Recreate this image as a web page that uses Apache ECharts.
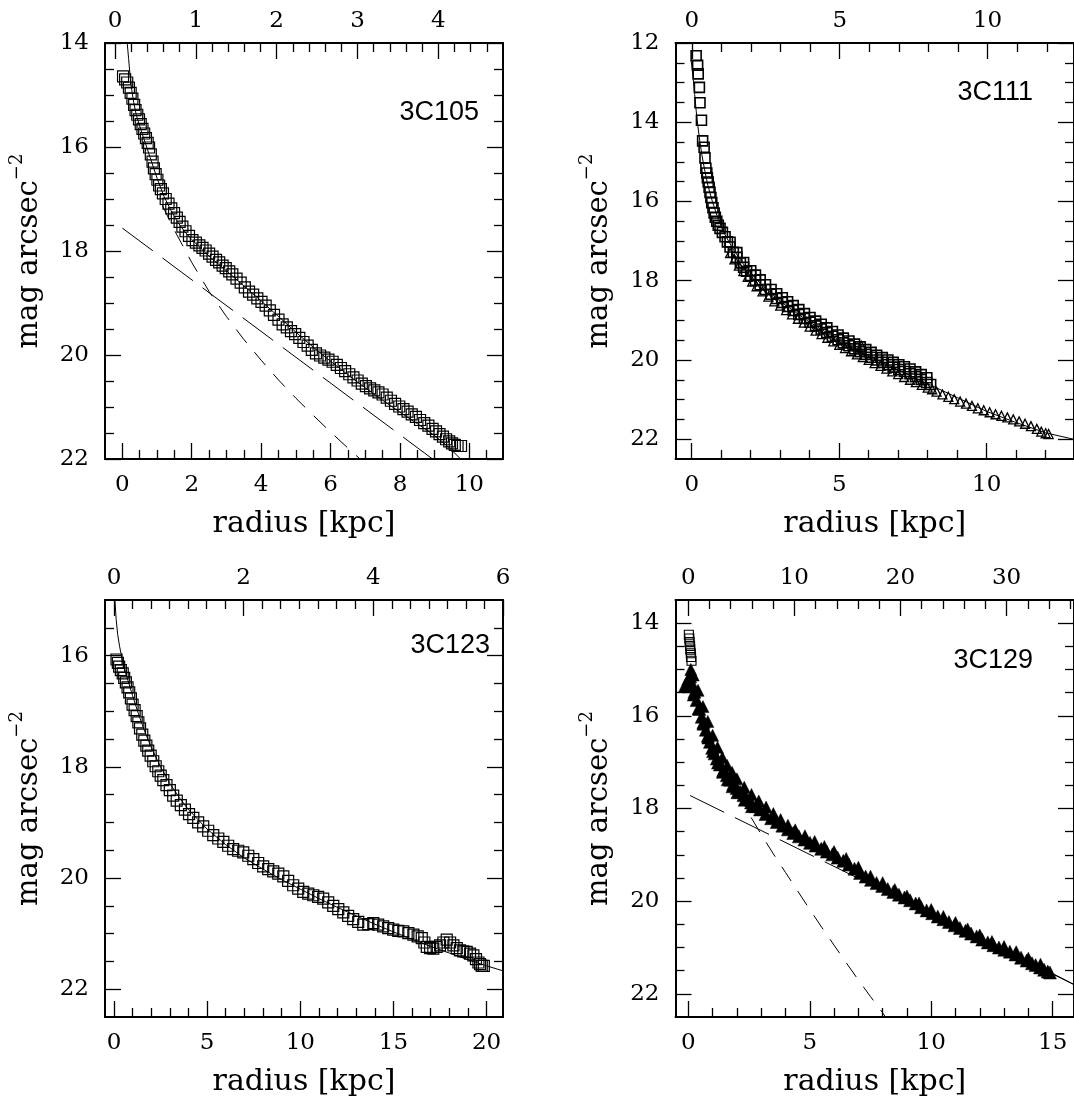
<!DOCTYPE html>
<html><head><meta charset="utf-8">
<script src="https://cdn.jsdelivr.net/npm/echarts@6/dist/echarts.min.js"></script>
<style>html,body{margin:0;padding:0;background:#fff}#c{width:1074px;height:1101px}</style>
</head><body><div id="c"></div><script>
// ---------------- DATA ----------------
// 3C105
const p1Squares = [[0.02,14.64],[0.08,14.70],[0.14,14.76],[0.19,14.86],[0.24,14.96],[0.29,15.07],[0.34,15.19],[0.38,15.29],[0.43,15.38],[0.48,15.47],[0.53,15.56],[0.58,15.65],[0.63,15.74],[0.68,15.83],[0.73,15.92],[0.77,16.01],[0.82,16.14],[0.87,16.28],[0.91,16.41],[0.96,16.52],[1.01,16.63],[1.06,16.74],[1.11,16.81],[1.17,16.89],[1.25,17.0],[1.33,17.09],[1.41,17.18],[1.49,17.27],[1.57,17.36],[1.65,17.44],[1.73,17.53],[1.82,17.62],[1.92,17.71],[2.02,17.79],[2.12,17.84],[2.22,17.89],[2.31,17.94],[2.40,17.99],[2.5,18.05],[2.6,18.11],[2.7,18.17],[2.79,18.22],[2.89,18.28],[2.98,18.33],[3.08,18.39],[3.17,18.45],[3.29,18.53],[3.41,18.61],[3.53,18.70],[3.65,18.78],[3.77,18.84],[3.89,18.91],[4.01,18.98],[4.13,19.05],[4.25,19.14],[4.37,19.23],[4.5,19.32],[4.62,19.41],[4.74,19.47],[4.86,19.54],[4.98,19.60],[5.10,19.67],[5.22,19.75],[5.34,19.82],[5.46,19.90],[5.58,19.97],[5.7,20.01],[5.82,20.05],[5.94,20.09],[6.06,20.13],[6.18,20.19],[6.3,20.25],[6.42,20.31],[6.54,20.37],[6.66,20.43],[6.78,20.49],[6.9,20.55],[7.02,20.60],[7.14,20.64],[7.26,20.68],[7.38,20.72],[7.5,20.76],[7.62,20.82],[7.74,20.88],[7.86,20.94],[7.98,20.99],[8.1,21.04],[8.22,21.09],[8.34,21.14],[8.46,21.19],[8.58,21.25],[8.7,21.31],[8.82,21.36],[8.94,21.42],[9.04,21.47],[9.14,21.52],[9.24,21.57],[9.33,21.62],[9.42,21.66],[9.5,21.70],[9.58,21.73],[9.66,21.75],[9.76,21.75]];
const p1Total = [[0.14,14.0],[0.18,14.3],[0.22,14.6],[0.27,14.9],[0.33,15.15],[0.4,15.38],[0.5,15.6],[0.6,15.8],[0.7,16.0],[0.8,16.2],[0.9,16.4],[1.0,16.6],[1.2,16.95],[1.4,17.22],[1.6,17.45],[1.8,17.63],[2.0,17.78],[2.5,18.1],[3.0,18.38],[3.5,18.67],[4.0,18.96],[4.5,19.26],[5.0,19.56],[5.5,19.85],[6.0,20.12],[6.5,20.38],[7.0,20.63],[7.5,20.87],[8.0,21.1],[8.5,21.32],[9.0,21.55],[9.4,21.77],[9.75,22.0]];
const p1Bulge = [[1.15,17.12],[1.5,17.6],[2.0,18.22],[2.5,18.78],[3.0,19.26],[3.5,19.7],[4.0,20.1],[4.5,20.48],[5.0,20.83],[5.5,21.16],[6.0,21.48],[6.5,21.79],[6.85,22.0]];
const p1Disk = [[0.0,17.56],[8.94,22.0]];
// 3C111
const p2Squares = [[0.15,12.32],[0.2,12.56],[0.22,12.78],[0.26,13.12],[0.28,13.51],[0.33,13.95],[0.37,14.47],[0.42,14.63],[0.45,14.9],[0.48,15.16],[0.51,15.28],[0.53,15.4],[0.56,15.51],[0.59,15.64],[0.62,15.77],[0.65,15.9],[0.68,16.03],[0.72,16.16],[0.76,16.29],[0.8,16.4],[0.85,16.5],[0.9,16.6],[0.96,16.68],[1.04,16.78],[1.13,16.89],[1.21,17.02],[1.30,17.15],[1.41,17.28],[1.53,17.41],[1.65,17.55],[1.76,17.66],[1.86,17.76],[2.0,17.87],[2.16,17.99],[2.32,18.10],[2.5,18.22],[2.69,18.34],[2.88,18.45],[3.07,18.55],[3.25,18.65],[3.44,18.75],[3.63,18.85],[3.82,18.95],[4.01,19.05],[4.2,19.14],[4.39,19.22],[4.58,19.31],[4.77,19.4],[4.96,19.49],[5.14,19.57],[5.33,19.64],[5.52,19.72],[5.71,19.79],[5.9,19.86],[6.08,19.93],[6.27,20.0],[6.46,20.06],[6.65,20.12],[6.83,20.18],[7.02,20.24],[7.21,20.29],[7.4,20.35],[7.59,20.42],[7.78,20.49],[7.97,20.57],[8.1,20.62]];
const p2SquaresUpper = [[1.3,17.03],[1.53,17.29],[1.76,17.54],[2.0,17.75],[2.16,17.86],[2.32,17.98],[2.5,18.1],[2.69,18.22],[2.88,18.33],[3.07,18.43],[3.25,18.53],[3.44,18.63],[3.63,18.73],[3.82,18.83],[4.01,18.93],[4.2,19.02],[4.39,19.1],[4.58,19.19],[4.77,19.28],[4.96,19.37],[5.14,19.45],[5.33,19.52],[5.52,19.6],[5.71,19.67],[5.9,19.74],[6.08,19.81],[6.27,19.88],[6.46,19.94],[6.65,20.0],[6.83,20.06],[7.02,20.12],[7.21,20.17],[7.4,20.23],[7.59,20.3],[7.78,20.37],[7.97,20.45]];
const p2Triangles = [[1.3,17.3],[1.45,17.46],[1.6,17.62],[1.75,17.76],[1.9,17.9],[2.05,18.02],[2.2,18.14],[2.4,18.27],[2.6,18.4],[2.8,18.52],[3.0,18.63],[3.2,18.74],[3.4,18.85],[3.6,18.96],[3.8,19.06],[4.0,19.16],[4.2,19.26],[4.4,19.35],[4.6,19.44],[4.8,19.53],[5.0,19.62],[5.2,19.7],[5.4,19.78],[5.6,19.86],[5.75,19.64],[5.8,19.93],[6.0,20.0],[6.2,20.08],[6.4,20.15],[6.6,20.22],[6.8,20.29],[7.0,20.36],[7.2,20.43],[7.4,20.5],[7.6,20.56],[7.8,20.63],[8.0,20.7],[8.15,20.74],[8.3,20.8],[8.5,20.87],[8.7,20.93],[8.9,20.99],[9.1,21.05],[9.3,21.1],[9.5,21.16],[9.7,21.22],[9.9,21.27],[10.1,21.32],[10.3,21.37],[10.5,21.41],[10.7,21.45],[10.9,21.5],[11.1,21.55],[11.3,21.61],[11.5,21.67],[11.7,21.74],[11.85,21.81],[12.0,21.85],[12.1,21.87]];
const p2Total = [[-0.02,12.43],[0.05,12.9],[0.1,13.3],[0.15,13.7],[0.2,14.05],[0.27,14.45],[0.35,14.85],[0.45,15.25],[0.55,15.6],[0.7,16.0],[0.9,16.45],[1.1,16.8],[1.4,17.2],[1.8,17.63],[2.3,18.05],[3.0,18.52],[4.0,19.05],[5.0,19.5],[6.0,19.9],[7.0,20.25],[8.0,20.6],[9.0,20.95],[10.0,21.3],[11.0,21.58],[12.0,21.84],[12.94,22.0]];
// 3C123
const p3Squares = [[0.14,16.07],[0.21,16.13],[0.28,16.2],[0.37,16.26],[0.47,16.32],[0.55,16.4],[0.64,16.48],[0.73,16.57],[0.82,16.66],[0.91,16.77],[1.0,16.88],[1.11,16.98],[1.22,17.09],[1.31,17.2],[1.4,17.31],[1.52,17.42],[1.63,17.53],[1.74,17.62],[1.84,17.71],[1.97,17.8],[2.11,17.9],[2.24,17.99],[2.38,18.08],[2.51,18.16],[2.65,18.24],[2.82,18.33],[3.0,18.42],[3.18,18.52],[3.37,18.61],[3.59,18.69],[3.81,18.77],[4.03,18.85],[4.26,18.92],[4.52,19.0],[4.79,19.07],[5.06,19.15],[5.33,19.23],[5.6,19.29],[5.87,19.35],[6.13,19.42],[6.4,19.48],[6.67,19.51],[6.94,19.54],[7.21,19.6],[7.48,19.66],[7.74,19.73],[8.01,19.79],[8.28,19.84],[8.55,19.88],[8.82,19.92],[9.09,19.97],[9.35,20.05],[9.62,20.13],[9.89,20.19],[10.16,20.25],[10.43,20.28],[10.7,20.31],[10.96,20.34],[11.23,20.37],[11.5,20.44],[11.77,20.5],[12.04,20.56],[12.31,20.62],[12.57,20.68],[12.84,20.74],[13.11,20.79],[13.38,20.84],[13.65,20.83],[13.92,20.81],[14.18,20.84],[14.45,20.87],[14.72,20.9],[14.99,20.93],[15.26,20.95],[15.53,20.96],[15.8,20.99],[16.07,21.02],[16.3,21.05],[16.52,21.08],[16.66,21.16],[16.79,21.24],[16.97,21.26],[17.14,21.27],[17.32,21.24],[17.5,21.21],[17.68,21.16],[17.86,21.11],[18.04,21.16],[18.22,21.21],[18.4,21.26],[18.57,21.3],[18.75,21.32],[18.93,21.33],[19.11,21.36],[19.29,21.39],[19.43,21.46],[19.56,21.52],[19.65,21.55],[19.74,21.58],[19.85,21.58]];
const p3Total = [[0.05,15.0],[0.12,15.35],[0.2,15.62],[0.3,15.83],[0.45,16.08],[0.6,16.28],[0.8,16.5],[1.0,16.72],[1.3,17.03],[1.6,17.32],[2.0,17.65],[2.5,18.0],[3.0,18.3],[3.5,18.55],[4.0,18.77],[5.0,19.12],[6.0,19.4],[7.0,19.64],[8.0,19.84],[9.0,20.03],[10.0,20.2],[11.0,20.37],[12.0,20.53],[13.0,20.68],[14.0,20.83],[15.0,20.97],[16.0,21.1],[17.0,21.23],[18.0,21.35],[19.0,21.47],[20.0,21.58],[20.88,21.67]];
// 3C129
const p4Squares = [[0.02,14.25],[0.04,14.33],[0.05,14.41],[0.07,14.49],[0.08,14.57],[0.1,14.65],[0.11,14.73],[0.13,14.81]];
const p4Triangles = [[-0.14,15.35],[0.0,15.2],[0.07,15.15],[0.15,15.3],[0.25,15.48],[0.34,15.66],[0.45,15.85],[0.55,16.02],[0.62,16.14],[0.72,16.3],[0.8,16.43],[0.89,16.56],[0.98,16.69],[1.08,16.81],[1.17,16.92],[1.3,17.05],[1.44,17.17],[1.58,17.28],[1.72,17.38],[1.85,17.47],[1.99,17.56],[2.13,17.64],[2.27,17.71],[2.4,17.78],[2.58,17.87],[2.77,17.95],[2.95,18.02],[3.18,18.12],[3.41,18.21],[3.64,18.29],[3.87,18.37],[4.1,18.45],[4.32,18.53],[4.55,18.6],[4.78,18.67],[5.01,18.74],[5.24,18.8],[5.47,18.87],[5.7,18.93],[5.93,18.99],[6.15,19.06],[6.38,19.13],[6.61,19.21],[6.84,19.3],[7.07,19.39],[7.3,19.47],[7.52,19.54],[7.75,19.61],[7.98,19.67],[8.21,19.74],[8.44,19.8],[8.67,19.86],[8.9,19.92],[9.13,19.98],[9.36,20.05],[9.58,20.13],[9.81,20.2],[10.04,20.26],[10.27,20.33],[10.5,20.39],[10.73,20.45],[10.96,20.52],[11.18,20.58],[11.41,20.64],[11.64,20.7],[11.87,20.76],[12.1,20.83],[12.33,20.89],[12.56,20.95],[12.79,21.0],[13.01,21.05],[13.24,21.09],[13.47,21.15],[13.7,21.22],[13.93,21.28],[14.15,21.34],[14.3,21.38],[14.48,21.43],[14.65,21.48],[14.8,21.52],[14.89,21.54]];
const p4TrianglesUpper = [[0.1,15.0],[0.2,15.12],[0.4,15.45],[0.6,15.8],[0.8,16.12],[1.0,16.42],[1.2,16.68],[1.4,16.9],[1.6,17.07],[1.8,17.22],[2.0,17.36],[2.3,17.54],[2.6,17.7],[2.9,17.84],[3.2,17.97],[3.5,18.11],[3.8,18.24],[4.1,18.36],[4.4,18.46],[4.8,18.59],[5.2,18.71],[5.6,18.82],[6.0,18.93],[6.5,19.08],[7.0,19.27],[7.5,19.46],[8.0,19.6],[8.5,19.75],[9.0,19.89],[9.5,20.04],[10.0,20.18],[10.5,20.33],[11.0,20.46],[11.5,20.6],[12.0,20.73],[12.5,20.87],[13.0,20.98],[13.5,21.09],[14.0,21.23],[14.5,21.36]];
const p4TrianglesLower = [[0.0,15.38],[0.2,15.55],[0.4,15.85],[0.6,16.18],[0.8,16.48],[1.0,16.77],[1.2,17.02],[1.4,17.22],[1.6,17.38],[1.8,17.53],[2.0,17.66],[2.3,17.82],[2.6,17.96]];
const p4Total = [[0.15,15.2],[0.5,15.92],[1.0,16.68],[1.5,17.2],[2.0,17.56],[2.5,17.84],[3.0,18.06],[4.0,18.43],[5.0,18.76],[6.0,19.06],[7.0,19.37],[8.0,19.67],[9.0,19.95],[10.0,20.24],[11.0,20.52],[12.0,20.79],[13.0,21.04],[14.0,21.3],[15.0,21.56],[15.88,21.8]];
const p4Bulge = [[1.5,17.08],[2.0,17.62],[2.5,18.12],[3.0,18.56],[3.5,18.98],[4.0,19.38],[4.5,19.78],[5.0,20.18],[5.5,20.57],[6.0,20.95],[6.5,21.33],[7.0,21.7],[7.5,22.06],[8.0,22.41],[8.12,22.5]];
const p4Disk = [[0.07,17.72],[15.88,21.8]];

// tick values / labels
const p1BottomMajor = [0,2,4,6,8,10];
const p1BottomMinor = [0.5,1,1.5,2.5,3,3.5,4.5,5,5.5,6.5,7,7.5,8.5,9,9.5,10.5];
const p1TopMajor = [0,1,2,3,4];
const p1TopMinor = [0.2,0.4,0.6,0.8,1.2,1.4,1.6,1.8,2.2,2.4,2.6,2.8,3.2,3.4,3.6,3.8,4.2,4.4,4.6];
const p1YMajor = [14,16,18,20,22];
const p1YMinor = [14.5,15,15.5,16.5,17,17.5,18.5,19,19.5,20.5,21,21.5];
const p2BottomMajor = [0,5,10];
const p2BottomMinor = [1,2,3,4,6,7,8,9,11,12];
const p2TopMajor = [0,5,10];
const p2TopMinor = [1,2,3,4,6,7,8,9,11,12];
const p2YMajor = [12,14,16,18,20,22];
const p2YMinor = [12.5,13,13.5,14.5,15,15.5,16.5,17,17.5,18.5,19,19.5,20.5,21,21.5];
const p3BottomMajor = [0,5,10,15,20];
const p3BottomMinor = [1,2,3,4,6,7,8,9,11,12,13,14,16,17,18,19];
const p3TopMajor = [0,2,4,6];
const p3TopMinor = [0.286,0.571,0.857,1.143,1.429,1.714,2.286,2.571,2.857,3.143,3.429,3.714,4.286,4.571,4.857,5.143,5.429,5.714];
const p3YMajor = [16,18,20,22];
const p3YMinor = [15.5,16.5,17,17.5,18.5,19,19.5,20.5,21,21.5];
const p4BottomMajor = [0,5,10,15];
const p4BottomMinor = [1,2,3,4,6,7,8,9,11,12,13,14];
const p4TopMajor = [0,10,20,30];
const p4TopMinor = [2,4,6,8,12,14,16,18,22,24,26,28,32,34,36];
const p4YMajor = [14,16,18,20,22];
const p4YMinor = [14.5,15,15.5,16.5,17,17.5,18.5,19,19.5,20.5,21,21.5];

const panelNames = ['3C105','3C111','3C123','3C129'];
const xTitle = 'radius [kpc]';
const yTitle = 'mag arcsec';
const yTitleSup = '\u22122';

// ---------------- LAYOUT / STYLE ----------------
const SERIF = '"DejaVu Serif", "Liberation Serif", serif';
const SANS = '"Liberation Sans", Arial, sans-serif';
const TICK_FS = 23;
const panels = [
  {box:[105,43,398,416], bx:[-0.5,10.97], tx:[-0.124,4.8], y:[14,22],
   bMaj:p1BottomMajor,bMin:p1BottomMinor,tMaj:p1TopMajor,tMin:p1TopMinor,yMaj:p1YMajor,yMin:p1YMinor, lab:[479,112.5]},
  {box:[675.5,43,398.5,416], bx:[-0.55,12.96], tx:[-0.55,12.92], y:[12,22.5],
   bMaj:p2BottomMajor,bMin:p2BottomMinor,tMaj:p2TopMajor,tMin:p2TopMinor,yMaj:p2YMajor,yMin:p2YMinor, lab:[1033,93]},
  {box:[105,600,398,417], bx:[-0.48,20.88], tx:[-0.139,6.0], y:[15,22.5],
   bMaj:p3BottomMajor,bMin:p3BottomMinor,tMaj:p3TopMajor,tMin:p3TopMinor,yMaj:p3YMajor,yMin:p3YMinor, lab:[490,646]},
  {box:[675.5,600,398.5,417], bx:[-0.53,15.88], tx:[-1.2,36.35], y:[13.5,22.5],
   bMaj:p4BottomMajor,bMin:p4BottomMinor,tMaj:p4TopMajor,tMin:p4TopMinor,yMaj:p4YMajor,yMin:p4YMinor, lab:[1033,661]}
];

const grids = [], xAxes = [], yAxes = [], series = [], graphics = [];
const tickLine = {color:'#000', width:1.3};
const labelStyle = (margin) => ({color:'#000', fontFamily:SERIF, fontSize:TICK_FS, margin});

panels.forEach((p, i) => {
  grids.push({left:p.box[0], top:p.box[1], width:p.box[2], height:p.box[3], containLabel:false, outerBoundsMode:'none'});
  const base = {gridIndex:i, type:'value', splitLine:{show:false}, silent:true};
  xAxes.push(Object.assign({}, base, {position:'bottom', min:p.bx[0], max:p.bx[1],
    axisLine:{show:true, onZero:false, lineStyle:{color:'#000', width:2}},
    axisTick:{show:true, inside:true, length:16, customValues:p.bMaj, lineStyle:tickLine},
    axisLabel:Object.assign({show:true, customValues:p.bMaj}, labelStyle(15)),
    name:xTitle, nameLocation:'middle', nameGap:50,
    nameTextStyle:{fontFamily:SERIF, fontSize:30, color:'#000'}}));
  xAxes.push(Object.assign({}, base, {position:'bottom', min:p.bx[0], max:p.bx[1],
    axisLine:{show:false, onZero:false},
    axisTick:{show:true, inside:true, length:9, customValues:p.bMin, lineStyle:tickLine},
    axisLabel:{show:false}}));
  xAxes.push(Object.assign({}, base, {position:'top', min:p.tx[0], max:p.tx[1],
    axisLine:{show:true, onZero:false, lineStyle:{color:'#000', width:2}},
    axisTick:{show:true, inside:true, length:16, customValues:p.tMaj, lineStyle:tickLine},
    axisLabel:Object.assign({show:true, customValues:p.tMaj}, labelStyle(10))}));
  xAxes.push(Object.assign({}, base, {position:'top', min:p.tx[0], max:p.tx[1],
    axisLine:{show:false, onZero:false},
    axisTick:{show:true, inside:true, length:9, customValues:p.tMin, lineStyle:tickLine},
    axisLabel:{show:false}}));
  yAxes.push(Object.assign({}, base, {position:'left', inverse:true, min:p.y[0], max:p.y[1],
    axisLine:{show:true, onZero:false, lineStyle:{color:'#000', width:2}},
    axisTick:{show:true, inside:true, length:16, customValues:p.yMaj, lineStyle:tickLine},
    axisLabel:Object.assign({show:true, customValues:p.yMaj}, labelStyle(16)),
    name:'{a|' + yTitle + '}{s|' + yTitleSup + '}', nameLocation:'middle', nameRotate:90, nameGap:55,
    nameTextStyle:{rich:{
      a:{fontFamily:SERIF, fontSize:29, color:'#000', lineHeight:42},
      s:{fontFamily:SERIF, fontSize:18, color:'#000', lineHeight:19, verticalAlign:'top'}}}}));
  yAxes.push(Object.assign({}, base, {position:'left', inverse:true, min:p.y[0], max:p.y[1],
    axisLine:{show:false, onZero:false},
    axisTick:{show:true, inside:true, length:9, customValues:p.yMin, lineStyle:tickLine},
    axisLabel:{show:false}}));
  yAxes.push(Object.assign({}, base, {position:'right', inverse:true, min:p.y[0], max:p.y[1],
    axisLine:{show:true, onZero:false, lineStyle:{color:'#000', width:2}},
    axisTick:{show:true, inside:true, length:16, customValues:p.yMaj, lineStyle:tickLine},
    axisLabel:{show:false}}));
  yAxes.push(Object.assign({}, base, {position:'right', inverse:true, min:p.y[0], max:p.y[1],
    axisLine:{show:false, onZero:false},
    axisTick:{show:true, inside:true, length:9, customValues:p.yMin, lineStyle:tickLine},
    axisLabel:{show:false}}));

  graphics.push({type:'text', x:p.lab[0], y:p.lab[1], silent:true,
    style:{text:panelNames[i], font:'27px ' + SANS, fill:'#000', align:'right', verticalAlign:'middle'}});
});

function scatter(gi, data, symbol, size, filled, bw) {
  return {type:'scatter', xAxisIndex:4*gi, yAxisIndex:4*gi, data, symbol, symbolSize:size,
    silent:true, animation:false, clip:true,
    itemStyle:{color: filled ? '#000' : 'rgba(0,0,0,0)', borderColor:'#000', borderWidth:bw, opacity:1}};
}
function curve(gi, data, dash) {
  return {type:'line', xAxisIndex:4*gi, yAxisIndex:4*gi, data, symbol:'none', showSymbol:false,
    silent:true, animation:false, clip:true, smooth:false,
    lineStyle:{color:'#000', width:1, type:dash || 'solid'}};
}

series.push(curve(0, p1Total), curve(0, p1Bulge, [17,12]), curve(0, p1Disk, [38,12]),
  scatter(0, p1Squares, 'rect', 11, false, 1.2));
series.push(curve(1, p2Total),
  scatter(1, p2Squares, 'rect', 10, false, 1.6), scatter(1, p2SquaresUpper, 'rect', 10, false, 1.6),
  scatter(1, p2Triangles, 'triangle', 9, false, 1.3));
series.push(curve(2, p3Total), scatter(2, p3Squares, 'rect', 11, false, 1.2));
series.push(curve(3, p4Total), curve(3, p4Bulge, [17,12]), curve(3, p4Disk, [38,12]),
  scatter(3, p4Squares, 'rect', 9, false, 1.1),
  scatter(3, p4TrianglesUpper, 'triangle', 12, true, 0.5),
  scatter(3, p4TrianglesLower, 'triangle', 12, true, 0.5),
  scatter(3, p4Triangles, 'triangle', 13, true, 0.5));

const chart = echarts.init(document.getElementById('c'), null, {renderer:'canvas'});
chart.setOption({
  animation:false, backgroundColor:'#fff',
  grid:grids, xAxis:xAxes, yAxis:yAxes, series, graphic:graphics
});
</script></body></html>
